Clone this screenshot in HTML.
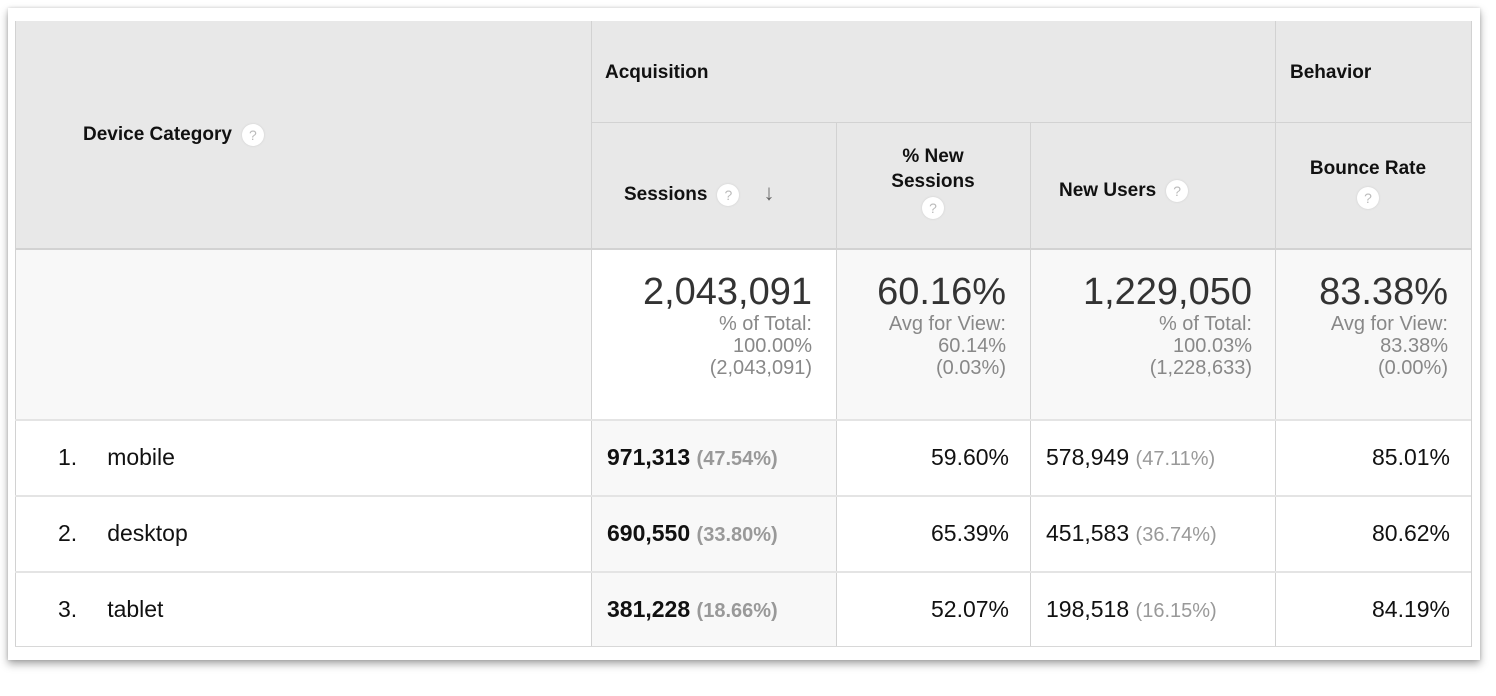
<!DOCTYPE html>
<html><head><style>
body{margin:0;width:1496px;height:696px;background:#fff;position:relative;overflow:hidden;font-family:"Liberation Sans",Arial,sans-serif;color:#222}
.card{position:absolute;left:8px;top:8px;width:1472px;height:652px;background:#fff;box-shadow:0 4px 8px rgba(0,0,0,.35),0 0 3px rgba(0,0,0,.15)}
.a{position:absolute;box-sizing:border-box}
.h{background:#e8e8e8}
.hl{position:absolute;background:#d2d2d2}
.b{font-weight:bold;font-size:19px;color:#111}
.q{display:inline-block;width:22px;height:22px;border-radius:50%;background:#fff;color:#bbb;font-size:14px;text-align:center;line-height:22px;font-weight:normal;vertical-align:middle;margin-left:10px;box-shadow:0 0 2px #ccc}
.big{font-size:38px;color:#333;text-align:right;line-height:42px}
.sm{font-size:20px;color:#888;text-align:right;line-height:22px}
.d{font-size:23px;color:#111}
.g{color:#999;font-size:20px}
</style></head><body>
<div class="card"></div>
<div class="a h" style="left:15px;top:21px;width:1456px;height:227px"></div>
<div class="a" style="left:591px;top:420px;width:245px;height:227px;background:#f8f8f8"></div>
<div class="a" style="left:15px;top:248px;width:1456px;height:172px;background:#f8f8f8"></div>
<div class="a" style="left:591px;top:248px;width:245px;height:172px;background:#fff"></div>
<div class="hl" style="left:591px;top:21px;width:1px;height:626px"></div>
<div class="hl" style="left:1275px;top:21px;width:1px;height:626px"></div>
<div class="hl" style="left:836px;top:122px;width:1px;height:525px"></div>
<div class="hl" style="left:1030px;top:122px;width:1px;height:525px"></div>
<div class="hl" style="left:1471px;top:21px;width:1px;height:626px"></div>
<div class="hl" style="left:15px;top:21px;width:1px;height:626px"></div>
<div class="hl" style="left:591px;top:122px;width:880px;height:1px"></div>
<div class="hl" style="left:15px;top:248px;width:1456px;height:2px"></div>
<div class="hl" style="left:15px;top:419px;width:1456px;height:2px;background:#e4e4e4"></div>
<div class="hl" style="left:15px;top:495px;width:1456px;height:2px;background:#e4e4e4"></div>
<div class="hl" style="left:15px;top:571px;width:1456px;height:2px;background:#e4e4e4"></div>
<div class="hl" style="left:15px;top:646px;width:1456px;height:1px;background:#d8d8d8"></div>
<div class="a b" style="left:83px;top:124px">Device Category<span class="q">?</span></div>
<div class="a b" style="left:605px;top:62px">Acquisition</div>
<div class="a b" style="left:1290px;top:62px">Behavior</div>
<div class="a b" style="left:624px;top:180px">Sessions<span class="q">?</span><span style="margin-left:24px;color:#666;font-size:22px">&#8595;</span></div>
<div class="a b" style="left:836px;top:144px;width:194px;text-align:center;line-height:25px">% New<br>Sessions<br><span class="q" style="margin:3px 0 0 0">?</span></div>
<div class="a b" style="left:1059px;top:180px">New Users<span class="q">?</span></div>
<div class="a b" style="left:1275px;top:156px;width:186px;text-align:center;line-height:25px">Bounce Rate<br><span class="q" style="margin:6px 0 0 0">?</span></div>
<div class="a" style="left:591px;top:271px;width:221px"><div class="big">2,043,091</div><div class="sm">% of Total:<br>100.00%<br>(2,043,091)</div></div>
<div class="a" style="left:836px;top:271px;width:170px"><div class="big">60.16%</div><div class="sm">Avg for View:<br>60.14%<br>(0.03%)</div></div>
<div class="a" style="left:1030px;top:271px;width:222px"><div class="big">1,229,050</div><div class="sm">% of Total:<br>100.03%<br>(1,228,633)</div></div>
<div class="a" style="left:1275px;top:271px;width:173px"><div class="big">83.38%</div><div class="sm">Avg for View:<br>83.38%<br>(0.00%)</div></div>
<div class="a d" style="left:58px;top:444px">1.<span style="margin-left:30px">mobile</span></div>
<div class="a d" style="left:58px;top:520px">2.<span style="margin-left:30px">desktop</span></div>
<div class="a d" style="left:58px;top:596px">3.<span style="margin-left:30px">tablet</span></div>
<div class="a d" style="left:607px;top:444px"><b>971,313</b> <span class="g" style="font-weight:bold">(47.54%)</span></div>
<div class="a d" style="left:607px;top:520px"><b>690,550</b> <span class="g" style="font-weight:bold">(33.80%)</span></div>
<div class="a d" style="left:607px;top:596px"><b>381,228</b> <span class="g" style="font-weight:bold">(18.66%)</span></div>
<div class="a d" style="left:836px;top:444px;width:173px;text-align:right">59.60%</div>
<div class="a d" style="left:836px;top:520px;width:173px;text-align:right">65.39%</div>
<div class="a d" style="left:836px;top:596px;width:173px;text-align:right">52.07%</div>
<div class="a d" style="left:1046px;top:444px">578,949 <span class="g">(47.11%)</span></div>
<div class="a d" style="left:1046px;top:520px">451,583 <span class="g">(36.74%)</span></div>
<div class="a d" style="left:1046px;top:596px">198,518 <span class="g">(16.15%)</span></div>
<div class="a d" style="left:1275px;top:444px;width:175px;text-align:right">85.01%</div>
<div class="a d" style="left:1275px;top:520px;width:175px;text-align:right">80.62%</div>
<div class="a d" style="left:1275px;top:596px;width:175px;text-align:right">84.19%</div>
</body></html>
